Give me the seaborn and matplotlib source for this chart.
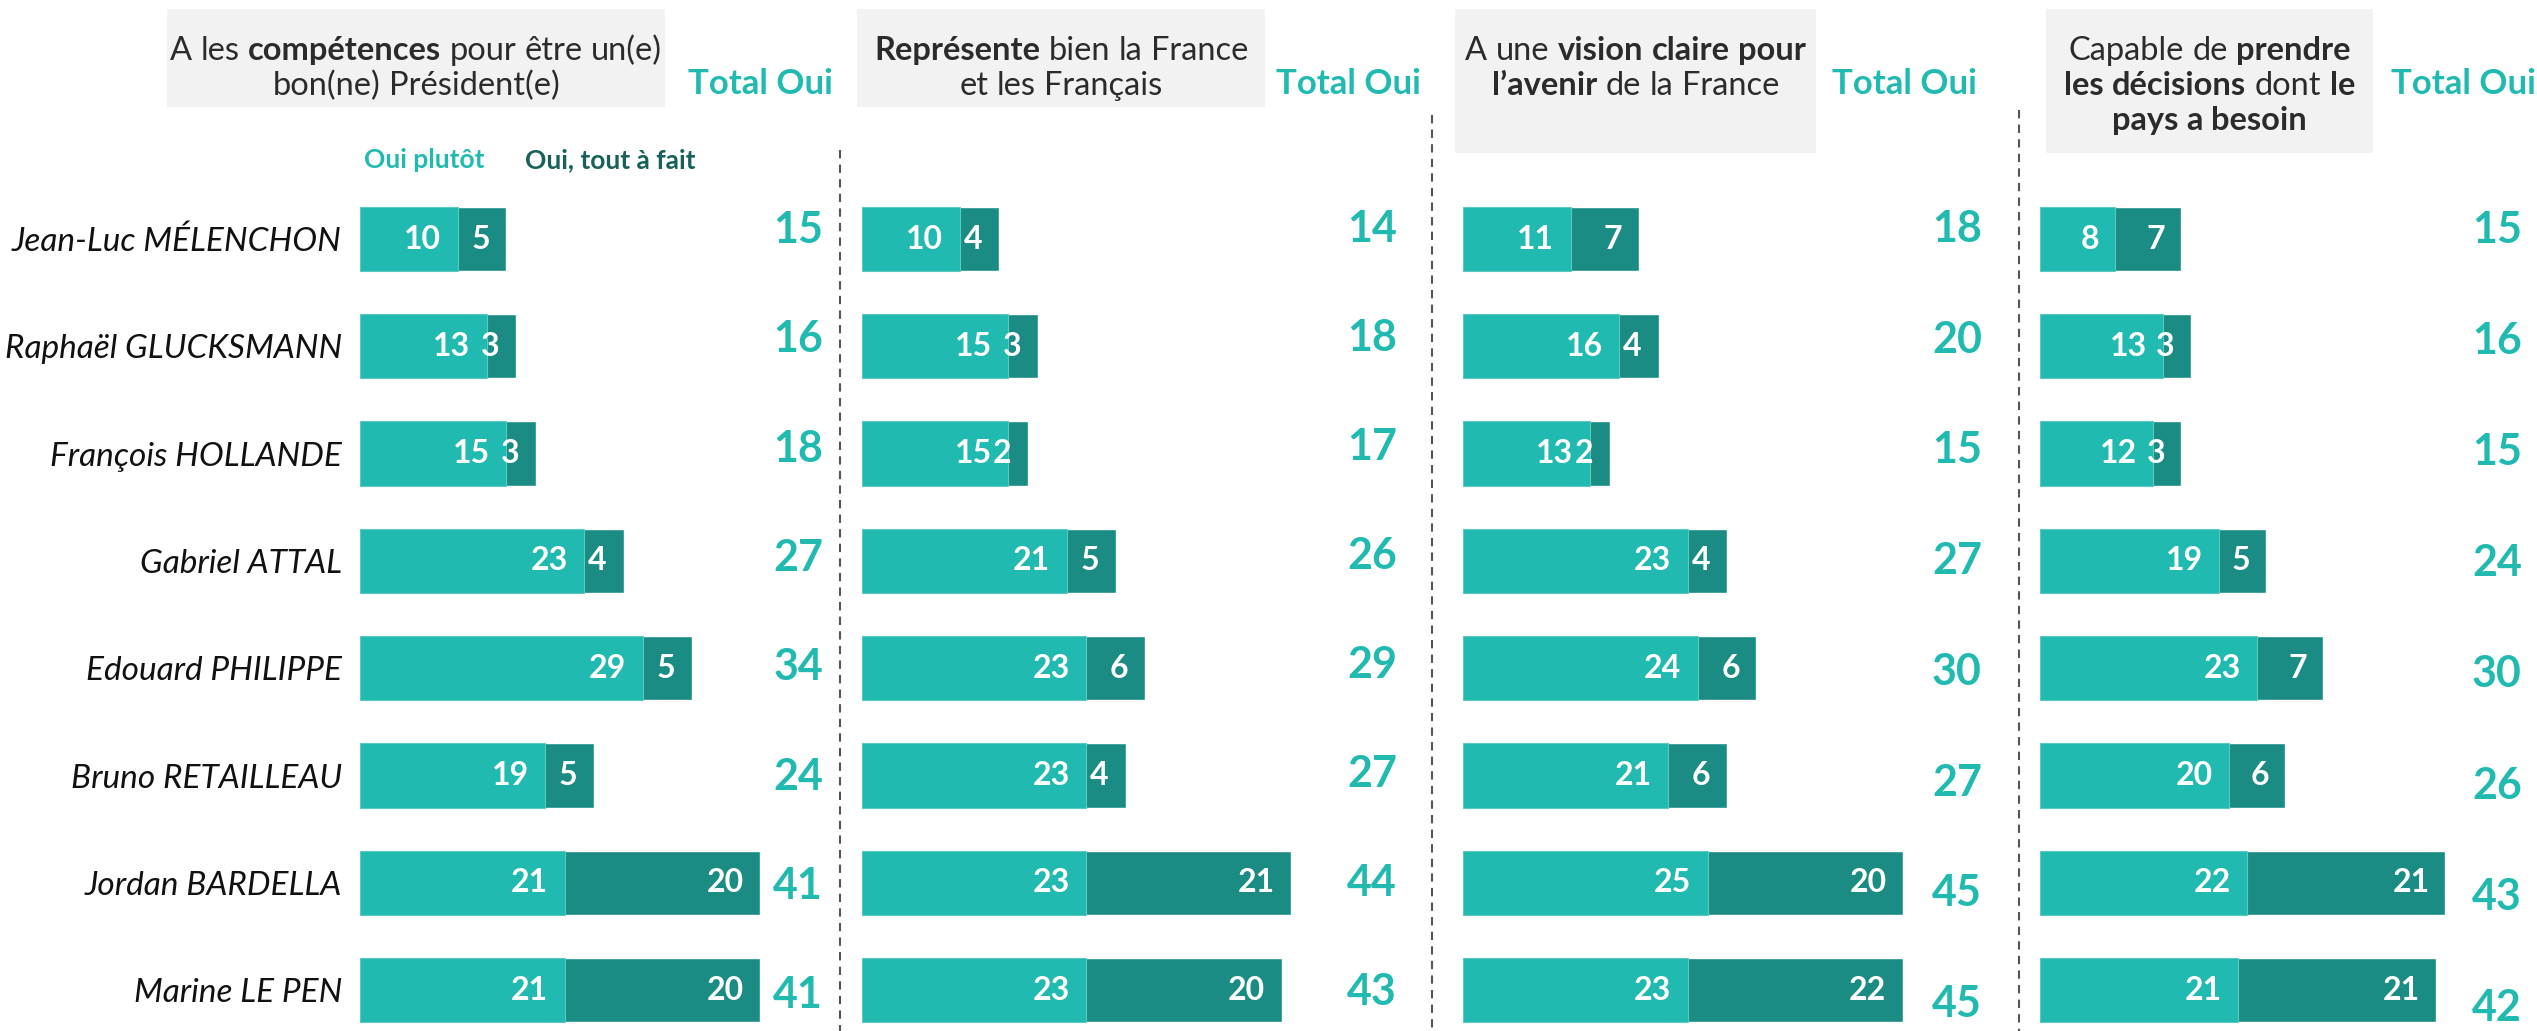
import numpy as np
import pandas as pd
import matplotlib.pyplot as plt
import seaborn as sns
from matplotlib.patches import Rectangle
from matplotlib.lines import Line2D

sns.set_style("white")
plt.rcParams['font.family'] = ['Lato', 'DejaVu Sans']

names = ["Jean-Luc MÉLENCHON", "Raphaël GLUCKSMANN", "François HOLLANDE", "Gabriel ATTAL",
         "Edouard PHILIPPE", "Bruno RETAILLEAU", "Jordan BARDELLA", "Marine LE PEN"]

# Oui plutôt / Oui, tout à fait / Total Oui, one set per question
plutot_comp = [10, 13, 15, 23, 29, 19, 21, 21]
fait_comp = [5, 3, 3, 4, 5, 5, 20, 20]
total_comp = [15, 16, 18, 27, 34, 24, 41, 41]

plutot_repr = [10, 15, 15, 21, 23, 23, 23, 23]
fait_repr = [4, 3, 2, 5, 6, 4, 21, 20]
total_repr = [14, 18, 17, 26, 29, 27, 44, 43]

plutot_vision = [11, 16, 13, 23, 24, 21, 25, 23]
fait_vision = [7, 4, 2, 4, 6, 6, 20, 22]
total_vision = [18, 20, 15, 27, 30, 27, 45, 45]

plutot_decis = [8, 13, 12, 19, 23, 20, 22, 21]
fait_decis = [7, 3, 3, 5, 7, 6, 21, 21]
total_decis = [15, 16, 15, 24, 30, 26, 43, 42]

# header lines: list of lines, each a list of (word, bold)
def words(s, bold):
    return [(w, bold) for w in s.split()]

headers = [
    [words("A les", False) + words("compétences", True) + words("pour être un(e)", False),
     words("bon(ne) Président(e)", False)],
    [words("Représente", True) + words("bien la France", False),
     words("et les Français", False)],
    [words("A une", False) + words("vision claire pour", True),
     words("l’avenir", True) + words("de la France", False)],
    [words("Capable de", False) + words("prendre", True),
     words("les décisions", True) + words("dont", False) + words("le", True),
     words("pays a besoin", True)],
]

panels = [
    (plutot_comp, fait_comp, total_comp),
    (plutot_repr, fait_repr, total_repr),
    (plutot_vision, fait_vision, total_vision),
    (plutot_decis, fait_decis, total_decis),
]

LIGHT = "#21BAB0"
DARK = "#1A8C84"
TEXT = "#2b2b2b"

W, H = 2537, 1031
fig = plt.figure(figsize=(W / 100, H / 100), dpi=100)

# layout in pixels
bar_x0 = [360, 862, 1463, 2040]
px_unit = [9.76, 9.76, 9.78, 9.43]
total_x = [798, 1372, 1957, 2497]
total_drift = [(-9, 2.0), (-10, 1.7), (-10, 3.4), (-9, 3.8)]
box_x = [(167, 665), (857, 1265), (1455, 1816), (2046, 2373)]
box_bottom = [107, 107, 153, 153]
tot_oui_x = [760, 1348, 1904, 2463]
row0, row_step = 239, 107.3
ax_top = row0 - 0.5 * row_step
ymax = (H - row0) / row_step
ax_w = 470

renderer = fig.canvas.get_renderer()


def rich_line(cx, base_y, items, size):
    arts = []
    for txt, bold in items:
        t = fig.text(0, 1 - base_y / H, txt, fontsize=size, color=TEXT,
                     fontweight="bold" if bold else "normal", ha="left", va="baseline")
        arts.append(t)
    widths = [a.get_window_extent(renderer).width for a in arts]
    probe_a = fig.text(0, 0, "x x", fontsize=size)
    probe_b = fig.text(0, 0, "xx", fontsize=size)
    space = probe_a.get_window_extent(renderer).width - probe_b.get_window_extent(renderer).width
    probe_a.remove()
    probe_b.remove()
    total = sum(widths) + space * (len(arts) - 1)
    x = cx - total / 2
    for a, w in zip(arts, widths):
        a.set_x(x / W)
        x += w + space


for p, (plutot, fait, total) in enumerate(panels):
    df = pd.DataFrame({"name": names, "plutot": plutot, "fait": fait})
    df["sum"] = df["plutot"] + df["fait"]

    ax = fig.add_axes([bar_x0[p] / W, 0, ax_w / W, (H - ax_top) / H])
    sns.barplot(data=df, x="sum", y="name", order=names, orient="h", color=DARK,
                width=0.6, saturation=1, ax=ax)
    sns.barplot(data=df, x="plutot", y="name", order=names, orient="h", color=LIGHT,
                width=0.6, saturation=1, edgecolor="#5cc9c0", linewidth=0.8, ax=ax)
    xmax = ax_w / px_unit[p]
    ax.set_xlim(0, xmax)
    ax.set_ylim(ymax, -0.5)
    ax.set_xlabel("")
    ax.set_ylabel("")
    ax.set_xticks([])
    sns.despine(ax=ax, left=True, bottom=True)
    pad = 1.7
    for i, row in df.iterrows():
        ax.text(row["plutot"] - pad, i, str(row["plutot"]), ha="right", va="center",
                color="white", fontsize=23, fontweight="bold")
        ax.text(row["sum"] - pad, i, str(row["fait"]), ha="right", va="center",
                color="white", fontsize=23, fontweight="bold")
        d0, d1 = total_drift[p]
        ax.text((total_x[p] - bar_x0[p]) / px_unit[p], i + (d0 + d1 * i) / row_step,
                str(total[i]), ha="center", va="center", color=LIGHT,
                fontsize=31, fontweight="bold", clip_on=False)
    if p == 0:
        ax.tick_params(axis="y", length=0, pad=13)
        ax.set_yticks(range(len(names)))
        ax.set_yticklabels(names, fontsize=24, fontstyle="italic", color="#111111")
    else:
        ax.set_yticks([])

    # header box + text
    x0, x1 = box_x[p]
    fig.add_artist(Rectangle((x0 / W, 1 - box_bottom[p] / H), (x1 - x0) / W,
                             (box_bottom[p] - 9) / H, transform=fig.transFigure,
                             facecolor="#F2F2F2", edgecolor="none", zorder=0))
    for k, line in enumerate(headers[p]):
        rich_line((x0 + x1) / 2, 60 + 35 * k, line, 23.5)
    fig.text(tot_oui_x[p] / W, 1 - 84 / H, "Total Oui", ha="center", va="center",
             color=LIGHT, fontsize=25, fontweight="bold")

# legend labels
fig.text(424 / W, 1 - 160 / H, "Oui plutôt", ha="center", va="center",
         color=LIGHT, fontsize=19, fontweight="bold")
fig.text(610 / W, 1 - 160 / H, "Oui, tout à fait", ha="center", va="center",
         color="#17615A", fontsize=19, fontweight="bold")

# dashed separators
for lx, ly in [(840, 150), (1432, 115), (2019, 110)]:
    fig.add_artist(Line2D([lx / W, lx / W], [1 - ly / H, 0], transform=fig.transFigure,
                          color="#555555", linestyle=(0, (4, 3)), linewidth=1.5))

fig.savefig("out.png", dpi=100)
